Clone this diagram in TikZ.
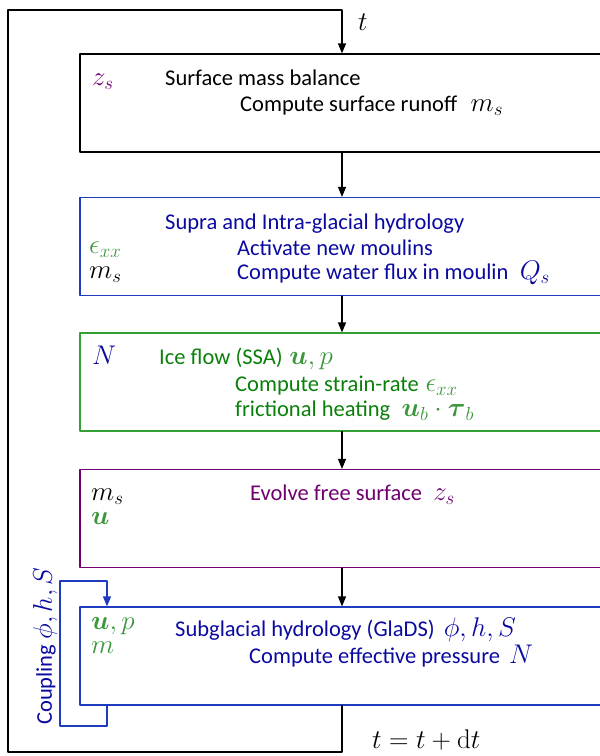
\RequirePackage{fix-cm}
\documentclass[tikz,border=0pt]{standalone}
\usepackage{amsmath}
\usepackage[no-math]{fontspec}
\setmainfont{Carlito}
\usetikzlibrary{arrows.meta}

\definecolor{smbpurple}{RGB}{112,0,112}
\definecolor{hydblue}{RGB}{10,10,160}
\definecolor{hydborder}{RGB}{30,60,190}
\definecolor{flowgreen}{RGB}{10,128,10}
\definecolor{flowborder}{RGB}{50,160,50}
\definecolor{mathgreen}{RGB}{60,150,60}

\newcommand{\mth}[1]{{\fontsize{27}{29}\selectfont$#1$}}

\begin{document}
\begin{tikzpicture}[line cap=round,line join=round,>={Triangle[length=10pt,width=8pt]},x=1pt,y=-1pt,
		box/.style={draw,line width=1.2pt,minimum width=524pt,minimum height=98pt,inner sep=0pt},
		lbl/.style={anchor=base west,inner sep=0pt,font=\fontsize{22.5}{26}\selectfont},
		conn/.style={line width=1.2pt,->}]
			\useasboundingbox (0,0) rectangle (600,756);
			\clip (0,0) rectangle (600,756);
			% boxes
			\node[box,draw=black] (smbbox) at (342,103) {};
			\node[box,draw=hydborder] (supbox) at (342,246.5) {};
			\node[box,draw=flowborder] (flowbox) at (342,382) {};
			\node[box,draw=smbpurple] (surfbox) at (342,518.5) {};
			\node[box,draw=hydborder] (gladsbox) at (342,656) {};
			% arrows
			\draw[conn] (smbbox) -- (supbox);
			\draw[conn] (supbox) -- (flowbox);
			\draw[conn] (flowbox) -- (surfbox);
			\draw[conn] (surfbox) -- (gladsbox);
			\coordinate (loopbot) at (342,752);
			\coordinate (looptop) at (8,10);
			\draw[conn] (gladsbox.south) -- (loopbot) -| (looptop) -| (smbbox.north);
			\coordinate (cplx) at (107,0);
			\coordinate (cplA) at (60,726);
			\coordinate (cplB) at (60,581);
			\draw[conn,draw=hydborder] (gladsbox.south -| cplx) |- (cplA) -- (cplB) -| (gladsbox.north -| cplx);
			\node[lbl,rotate=90,text=hydblue] (cpllbl) at (52,725) {Coupling \mth{\phi,h,S}};
			\node[lbl] (tin) at (358,30) {\mth{t}};
			\node[lbl] (tnext) at (372,748) {\mth{t=t+\mathrm{d}t}};
			% surface mass balance
			\node[lbl,text=smbpurple] (zsin) at (92,85) {\mth{z_s}};
			\node[lbl] (smbtitle) at (165,85) {Surface mass balance};
			\node[lbl] (runoff) at (240,111) {Compute surface runoff\hspace{0.6em}\mth{m_s}};
			% supra and intra-glacial
			\node[lbl,text=hydblue] (suptitle) at (165,229) {Supra and Intra-glacial hydrology};
			\node[lbl,text=mathgreen] (exxin) at (89,253) {\mth{\epsilon_{xx}}};
			\node[lbl,text=hydblue] (moulins) at (237,255) {Activate new moulins};
			\node[lbl] (msin) at (89,278) {\mth{m_s}};
			\node[lbl,text=hydblue] (flux) at (237,279) {Compute water flux in moulin\hspace{0.5em}\mth{Q_s}};
			% ice flow
			\node[lbl,text=hydblue] (Nin) at (92,364) {\mth{N}};
			\node[lbl,text=flowgreen] (ssa) at (159,364) {Ice flow (SSA)\hspace{0.3em}\textcolor{mathgreen}{\mth{\boldsymbol{u},p}}};
			\node[lbl,text=flowgreen] (strain) at (235,391) {Compute strain-rate\hspace{0.3em}\textcolor{mathgreen}{\mth{\epsilon_{xx}}}};
			\node[lbl,text=flowgreen] (heat) at (235,416) {frictional heating\hspace{0.5em}\textcolor{mathgreen}{\mth{\boldsymbol{u}_b\cdot\boldsymbol{\tau}_b}}};
			% free surface
			\node[lbl] (msin2) at (91,500) {\mth{m_s}};
			\node[lbl,text=mathgreen] (uin) at (91,524) {\mth{\boldsymbol{u}}};
			\node[lbl,text=smbpurple] (evolve) at (250,500) {Evolve free surface\hspace{0.5em}\mth{z_s}};
			% subglacial
			\node[lbl,text=mathgreen] (upin) at (91,629) {\mth{\boldsymbol{u},p}};
			\node[lbl,text=mathgreen] (min) at (91,653) {\mth{m}};
			\node[lbl,text=hydblue] (glads) at (175,636) {Subglacial hydrology (GlaDS)\hspace{0.4em}\mth{\phi,h,S}};
			\node[lbl,text=hydblue] (neff) at (249,663) {Compute effective pressure\hspace{0.4em}\mth{N}};
\end{tikzpicture}
\end{document}
